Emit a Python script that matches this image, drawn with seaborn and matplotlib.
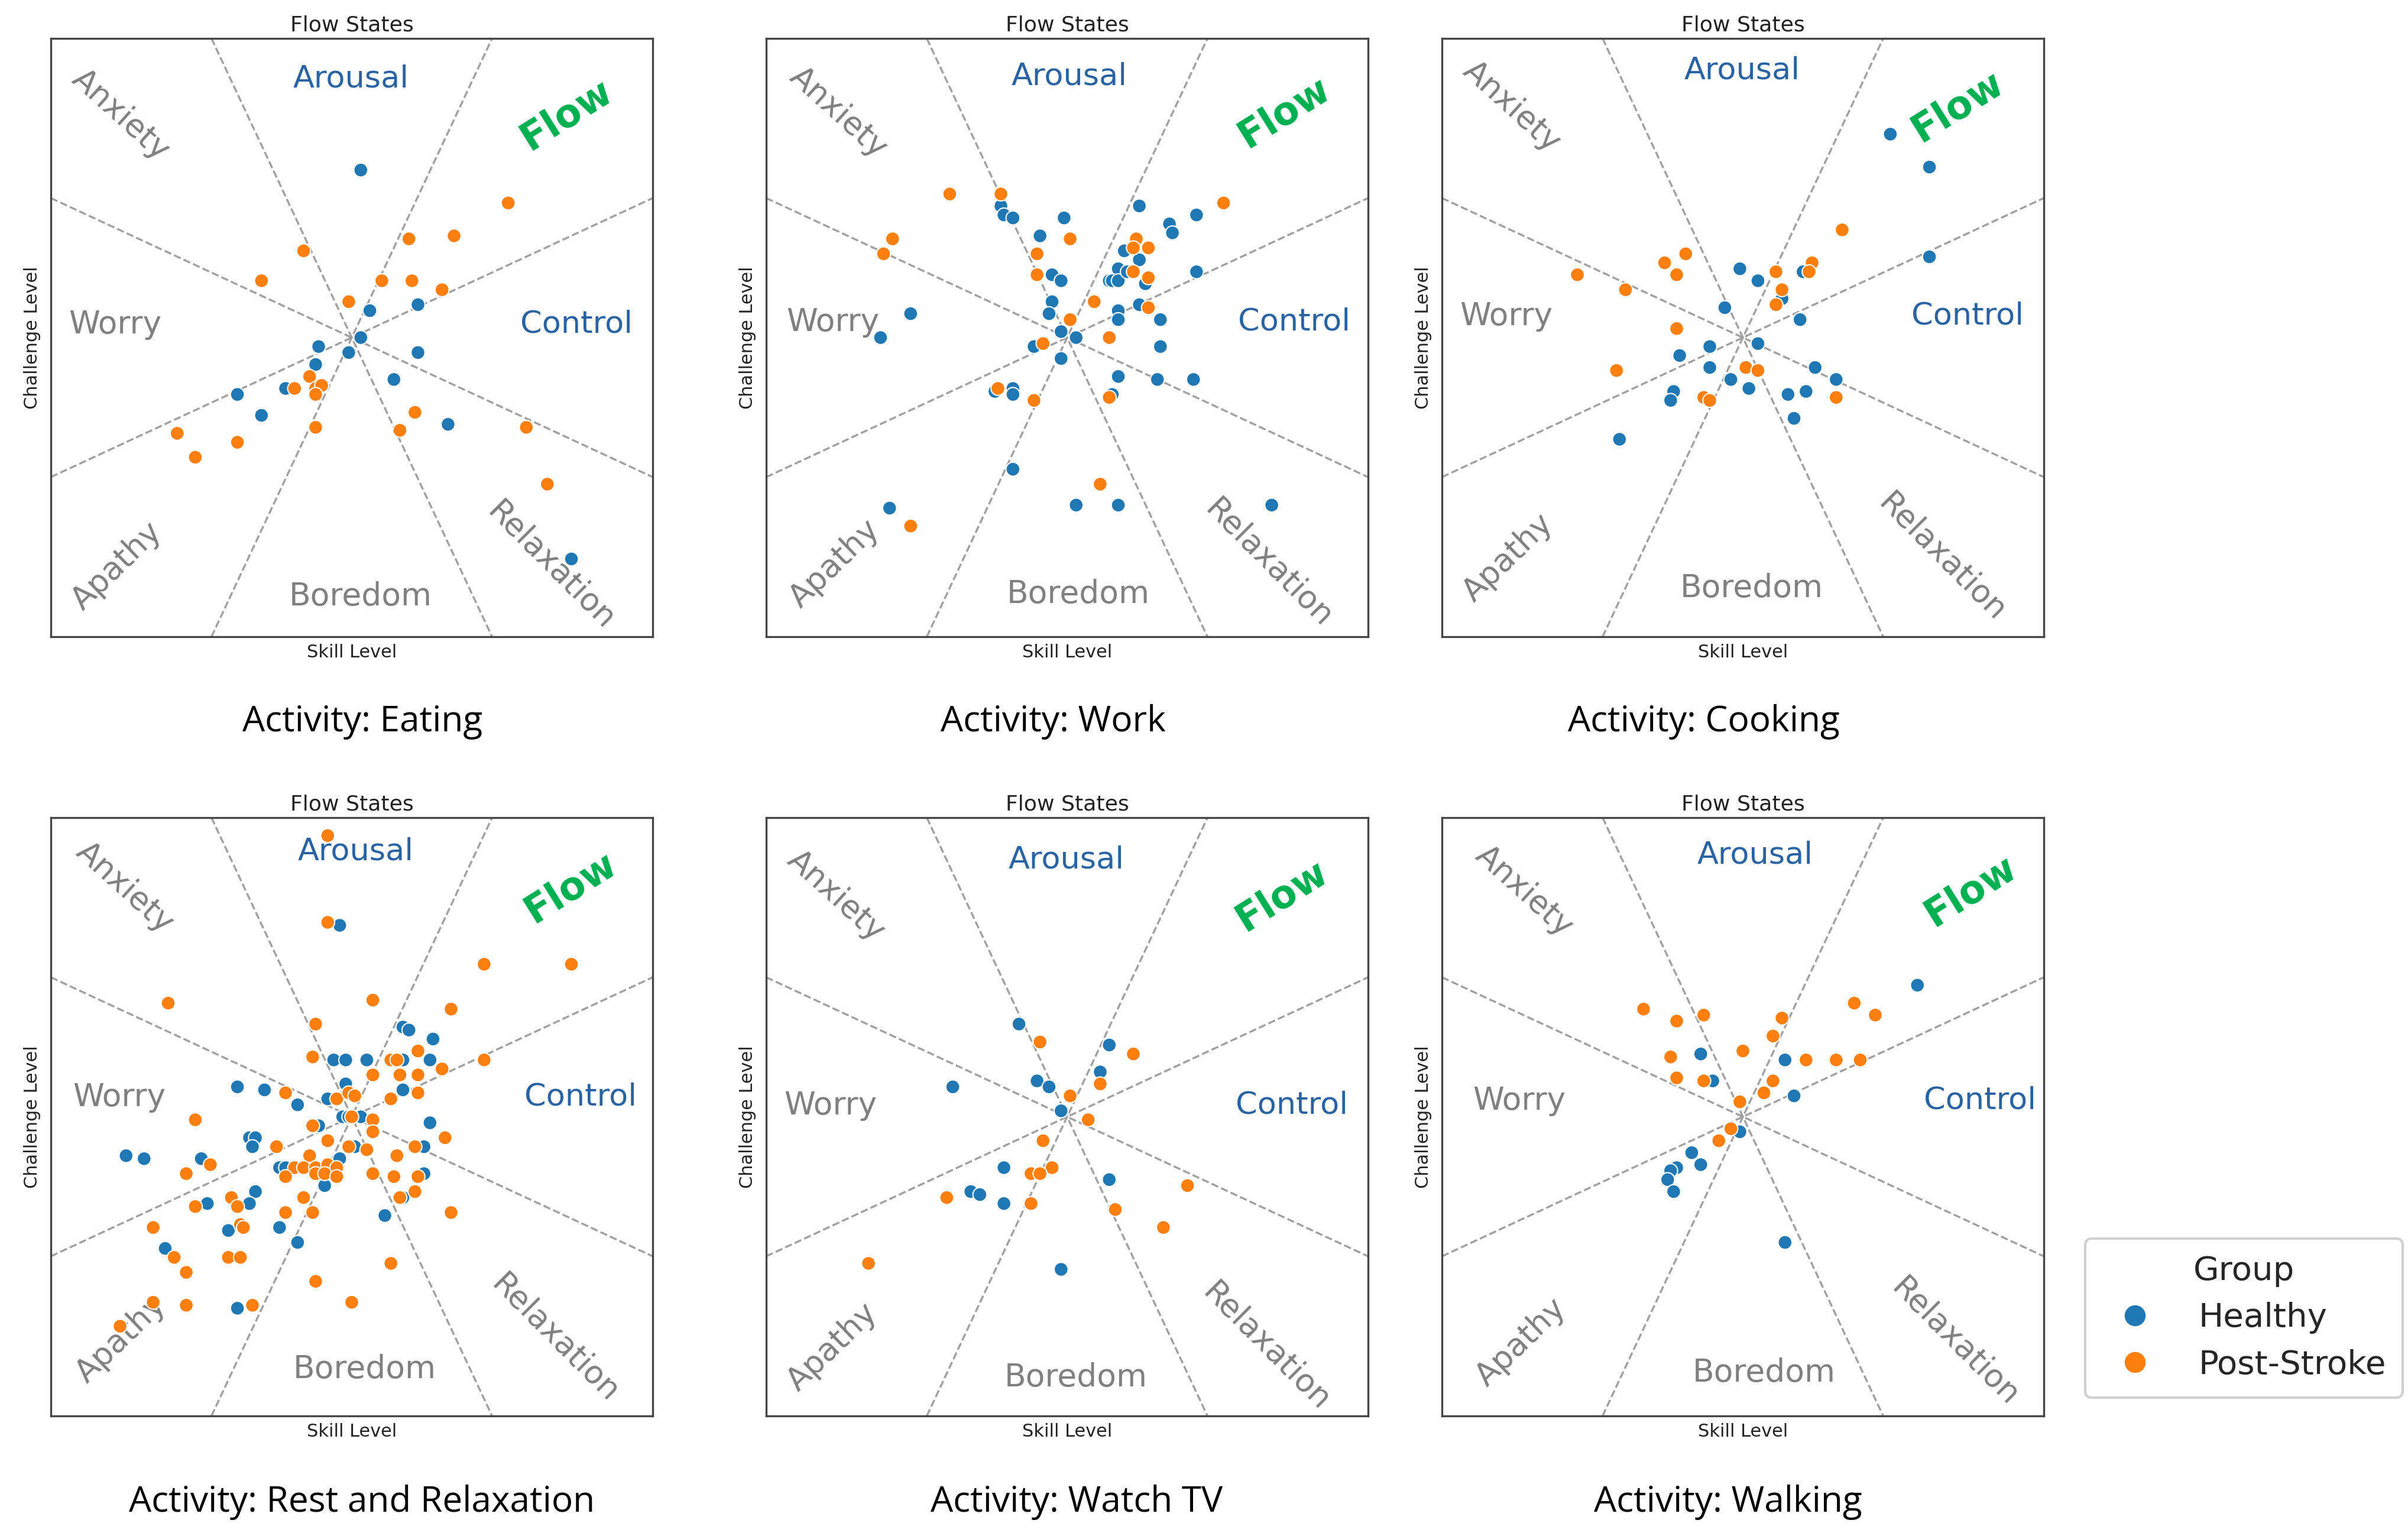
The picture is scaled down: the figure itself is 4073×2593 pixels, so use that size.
import numpy as np
import pandas as pd
import matplotlib
matplotlib.use("Agg")
import matplotlib.pyplot as plt
from matplotlib.lines import Line2D
import seaborn as sns

# ---- data: skill (x) / challenge (y), centred scores ----
activities = ["Eating", "Work", "Cooking", "Rest and Relaxation", "Watch TV", "Walking"]
groups = ["Healthy", "Post-Stroke"]

eating_healthy_x = [0.03, 0.06, 0.22, 0.03, -0.11, -0.01, -0.12, 0.22, 0.14, -0.22, -0.38, -0.30, 0.32, 0.73]
eating_healthy_y = [0.56, 0.09, 0.11, 0.00, -0.03, -0.05, -0.09, -0.05, -0.14, -0.17, -0.19, -0.26, -0.29, -0.74]
eating_stroke_x = [0.52, 0.19, 0.34, -0.16, -0.30, 0.10, 0.20, 0.30, -0.01, -0.14, -0.19, -0.12, -0.10,
                   -0.12, -0.12, 0.21, 0.16, -0.58, -0.52, -0.38, 0.58, 0.65]
eating_stroke_y = [0.45, 0.33, 0.34, 0.29, 0.19, 0.19, 0.19, 0.16, 0.12, -0.13, -0.17, -0.17, -0.16,
                   -0.19, -0.30, -0.25, -0.31, -0.32, -0.40, -0.35, -0.30, -0.49]

work_healthy_x = [0.24, 0.43, -0.22, -0.21, -0.18, -0.01, -0.09, 0.34, 0.35, 0.19, 0.24, 0.17, 0.14, 0.15,
                  0.17, 0.20, 0.26, 0.43, -0.05, -0.02, -0.05, -0.06, 0.24, 0.17, 0.17, 0.31, -0.52, -0.62,
                  -0.02, 0.03, -0.11, -0.02, 0.31, 0.17, 0.30, 0.42, 0.15, -0.24, -0.18, -0.18, -0.18,
                  0.03, 0.17, -0.59, 0.68]
work_healthy_y = [0.44, 0.41, 0.44, 0.41, 0.40, 0.40, 0.34, 0.38, 0.35, 0.29, 0.26, 0.23, 0.19, 0.19,
                  0.19, 0.22, 0.18, 0.22, 0.21, 0.19, 0.12, 0.08, 0.11, 0.09, 0.06, 0.06, 0.08, 0.00,
                  0.02, 0.00, -0.03, -0.07, -0.03, -0.13, -0.14, -0.14, -0.19, -0.18, -0.17, -0.19, -0.44,
                  -0.56, -0.56, -0.57, -0.56]
work_stroke_x = [-0.39, -0.22, 0.52, -0.58, -0.61, 0.01, -0.10, -0.10, 0.23, 0.22, 0.27, 0.22, 0.27, 0.27,
                 0.09, 0.01, 0.14, -0.08, -0.23, -0.11, 0.14, 0.11, -0.52]
work_stroke_y = [0.48, 0.48, 0.45, 0.33, 0.28, 0.33, 0.28, 0.21, 0.33, 0.30, 0.30, 0.22, 0.20, 0.10,
                 0.12, 0.06, 0.00, -0.02, -0.17, -0.21, -0.20, -0.49, -0.63]

cooking_healthy_x = [0.49, 0.62, 0.62, -0.01, 0.05, 0.20, 0.13, -0.06, 0.19, -0.11, 0.05, -0.21, -0.11,
                     -0.04, 0.02, 0.24, 0.31, 0.21, 0.15, -0.23, -0.24, 0.17, -0.41]
cooking_healthy_y = [0.68, 0.57, 0.27, 0.23, 0.19, 0.22, 0.13, 0.10, 0.06, -0.03, -0.02, -0.06, -0.10,
                     -0.14, -0.17, -0.10, -0.14, -0.18, -0.19, -0.18, -0.21, -0.27, -0.34]
cooking_stroke_x = [0.33, -0.19, -0.26, -0.22, -0.55, -0.39, 0.11, 0.23, 0.22, 0.13, 0.11, -0.22, -0.42,
                    0.01, 0.05, -0.13, -0.11, 0.31]
cooking_stroke_y = [0.36, 0.28, 0.25, 0.21, 0.21, 0.16, 0.22, 0.25, 0.22, 0.16, 0.11, 0.03, -0.11,
                    -0.10, -0.11, -0.20, -0.21, -0.20]

rest_healthy_x = [-0.04, 0.17, 0.19, 0.27, -0.06, -0.02, 0.05, 0.17, 0.26, -0.02, -0.38, -0.29, -0.18,
                  0.17, -0.08, -0.03, -0.01, 0.03, -0.11, 0.26, -0.34, -0.32, -0.33, -0.75, -0.69, -0.50,
                  0.01, 0.24, -0.04, -0.24, -0.22, 0.24, -0.09, -0.32, -0.34, -0.48, 0.17, 0.11, -0.41,
                  -0.24, -0.18, -0.62, -0.38]
rest_healthy_y = [0.64, 0.30, 0.29, 0.26, 0.19, 0.19, 0.19, 0.19, 0.19, 0.11, 0.10, 0.09, 0.04,
                  0.09, 0.06, 0.00, 0.00, 0.00, -0.03, -0.02, -0.07, -0.07, -0.10, -0.13, -0.14, -0.14,
                  -0.10, -0.10, -0.14, -0.17, -0.17, -0.19, -0.23, -0.25, -0.29, -0.29, -0.27, -0.33, -0.38,
                  -0.37, -0.42, -0.44, -0.64]
rest_stroke_x = [-0.08, -0.08, 0.44, 0.73, -0.61, 0.07, 0.33, -0.12, -0.13, 0.13, 0.15, 0.22, 0.44, 0.30,
                 0.07, 0.16, 0.22, -0.22, -0.05, -0.01, 0.01, 0.13, 0.22, 0.00, 0.07, -0.52, -0.13, 0.07,
                 0.31, -0.08, -0.25, -0.01, 0.05, 0.21, -0.14, 0.15, -0.55, -0.47, -0.19, -0.16, -0.12,
                 -0.08, -0.05, -0.22, -0.12, -0.09, -0.05, 0.07, 0.14, 0.22, 0.21, 0.16, -0.16, -0.40,
                 -0.38, -0.52, -0.22, -0.13, 0.33, -0.66, -0.37, -0.36, -0.59, -0.41, -0.37, -0.55, 0.13,
                 -0.12, 0.00, -0.66, -0.55, -0.33, -0.77]
rest_stroke_y = [0.94, 0.65, 0.51, 0.51, 0.38, 0.39, 0.36, 0.31, 0.20, 0.19, 0.19, 0.22, 0.19, 0.16,
                 0.14, 0.14, 0.14, 0.08, 0.06, 0.08, 0.07, 0.06, 0.08, 0.00, -0.01, -0.01, -0.03, -0.05,
                 -0.07, -0.08, -0.10, -0.10, -0.11, -0.10, -0.13, -0.13, -0.19, -0.16, -0.17, -0.17, -0.17,
                 -0.16, -0.17, -0.20, -0.19, -0.19, -0.20, -0.19, -0.20, -0.20, -0.25, -0.27, -0.27, -0.27,
                 -0.30, -0.30, -0.32, -0.32, -0.32, -0.37, -0.36, -0.37, -0.47, -0.47, -0.47, -0.52, -0.49,
                 -0.55, -0.62, -0.62, -0.63, -0.63, -0.70]

tv_healthy_x = [-0.16, 0.14, 0.11, -0.10, -0.06, -0.38, -0.02, -0.21, -0.32, -0.29, -0.21, 0.14, -0.02]
tv_healthy_y = [0.31, 0.24, 0.15, 0.12, 0.10, 0.10, 0.02, -0.17, -0.25, -0.26, -0.29, -0.21, -0.51]
tv_stroke_x = [-0.09, 0.22, 0.11, 0.01, 0.07, -0.08, -0.05, -0.12, -0.09, -0.40, -0.12, 0.16, 0.40, 0.32, -0.66]
tv_stroke_y = [0.25, 0.21, 0.11, 0.07, -0.01, -0.08, -0.17, -0.19, -0.19, -0.27, -0.29, -0.31, -0.23, -0.37, -0.49]

walking_healthy_x = [0.58, -0.14, 0.14, -0.10, 0.17, -0.01, -0.17, -0.14, -0.22, -0.24, -0.25, -0.23, 0.14]
walking_healthy_y = [0.44, 0.21, 0.19, 0.12, 0.07, -0.05, -0.12, -0.16, -0.17, -0.18, -0.21, -0.25, -0.42]
walking_stroke_x = [-0.33, -0.22, -0.13, 0.13, 0.10, 0.37, 0.44, 0.00, -0.24, 0.21, 0.31, 0.39, -0.22,
                    -0.13, 0.10, 0.07, -0.01, -0.04, -0.08]
walking_stroke_y = [0.36, 0.32, 0.34, 0.33, 0.27, 0.38, 0.34, 0.22, 0.20, 0.19, 0.19, 0.19, 0.13,
                    0.12, 0.12, 0.08, 0.05, -0.04, -0.08]

series = {
    "Eating": (eating_healthy_x, eating_healthy_y, eating_stroke_x, eating_stroke_y),
    "Work": (work_healthy_x, work_healthy_y, work_stroke_x, work_stroke_y),
    "Cooking": (cooking_healthy_x, cooking_healthy_y, cooking_stroke_x, cooking_stroke_y),
    "Rest and Relaxation": (rest_healthy_x, rest_healthy_y, rest_stroke_x, rest_stroke_y),
    "Watch TV": (tv_healthy_x, tv_healthy_y, tv_stroke_x, tv_stroke_y),
    "Walking": (walking_healthy_x, walking_healthy_y, walking_stroke_x, walking_stroke_y),
}

rows = []
for act, (hx, hy, sx, sy) in series.items():
    for x, y in zip(hx, hy):
        rows.append((act, "Healthy", x, y))
    for x, y in zip(sx, sy):
        rows.append((act, "Post-Stroke", x, y))
df = pd.DataFrame(rows, columns=["Activity", "Group", "Skill", "Challenge"])

# ---- style ----
sns.set_style("white")
plt.rcParams["font.family"] = ["DejaVu Sans"]

palette = {"Healthy": "#1f77b4", "Post-Stroke": "#ff7f0e"}
BLUE_TXT = "#2a63a4"
GRAY_TXT = "#808080"
GREEN_TXT = "#00b050"

# region labels: (text, u, v, rotation, color, weight, size)
region_labels = [
    ("Arousal", 0.499, 0.932, 0, BLUE_TXT, "normal", 12.6),
    ("Flow", 0.857, 0.872, 32, GREEN_TXT, "bold", 15.5),
    ("Control", 0.873, 0.522, 0, BLUE_TXT, "normal", 12.6),
    ("Relaxation", 0.831, 0.118, -45, GRAY_TXT, "normal", 12.8),
    ("Boredom", 0.514, 0.067, 0, GRAY_TXT, "normal", 12.8),
    ("Apathy", 0.110, 0.118, 44, GRAY_TXT, "normal", 12.8),
    ("Worry", 0.107, 0.522, 0, GRAY_TXT, "normal", 12.8),
    ("Anxiety", 0.116, 0.872, -42, GRAY_TXT, "normal", 12.8),
]
label_shift = [(0, 0), (0.004, 0.004), (0, 0.014), (0.007, 0.011), (0, -0.003), (0.021, 0.005)]

W, H = 4073, 2593
fig = plt.figure(figsize=(W / 300, H / 300), dpi=300)

col_left = [86, 1296, 2439]
row_top = [65, 1383]
panel_w, panel_h = 1018, 1012
caption_x = [613, 1781, 2882, 612, 1821, 2923]
caption_y = [1221, 2541]

for i, act in enumerate(activities):
    r, c = divmod(i, 3)
    left = col_left[c] / W
    bottom = 1 - (row_top[r] + panel_h) / H
    ax = fig.add_axes([left, bottom, panel_w / W, panel_h / H])

    for ang in [25, 65, 115, 155]:
        ax.axline((0, 0), slope=np.tan(np.radians(ang)), ls="--", color="#a0a0a0", lw=0.8, zorder=1)

    sns.scatterplot(data=df[df["Activity"] == act], x="Skill", y="Challenge", hue="Group",
                    hue_order=groups, palette=palette, s=32, edgecolor="white", linewidth=0.5,
                    legend=False, ax=ax, zorder=3)

    du, dv = label_shift[i]
    for txt, u, v, rot, col, wt, fs in region_labels:
        ax.text(u + du, v + dv, txt, transform=ax.transAxes, ha="center", va="center",
                rotation=rot, rotation_mode="anchor", color=col, fontweight=wt, fontsize=fs, zorder=2)

    ax.set_xlim(-1, 1)
    ax.set_ylim(-1, 1)
    ax.set_xticks([])
    ax.set_yticks([])
    ax.set_title("Flow States", fontsize=8.7, pad=3, color="#222222")
    ax.set_xlabel("Skill Level", fontsize=7.3, labelpad=3, color="#222222")
    ax.set_ylabel("Challenge Level", fontsize=7.3, labelpad=4, color="#222222")
    for sp in ax.spines.values():
        sp.set_color("#444444")
        sp.set_linewidth(0.8)

    fig.text(caption_x[i] / W, 1 - caption_y[r] / H, f"Activity: {act}", ha="center", va="center",
             fontsize=14.5, family=["Open Sans", "DejaVu Sans"], color="black")

handles = [Line2D([], [], marker="o", ls="", markersize=9, markerfacecolor=palette[g],
                  markeredgecolor="white", markeredgewidth=0.5, label=g) for g in groups]
leg = fig.legend(handles=handles, title="Group", loc="upper left", bbox_to_anchor=(3527 / W, 1 - 2095 / H),
                 borderaxespad=0, fontsize=13.5, title_fontsize=13.5, frameon=True, framealpha=1,
                 edgecolor="#d0d0d0", fancybox=True, borderpad=0.5, labelspacing=0.45, handletextpad=0.9)
leg.get_frame().set_linewidth(1.0)

fig.savefig("out.png", dpi=300)
